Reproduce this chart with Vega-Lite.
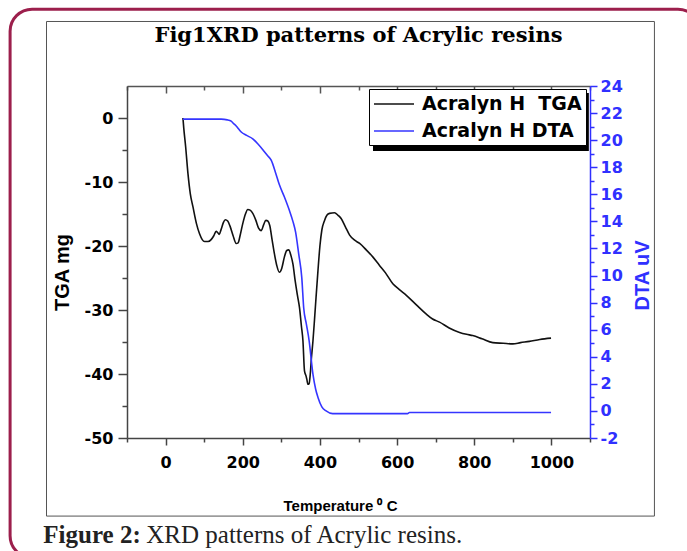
{
  "$schema": "https://vega.github.io/schema/vega-lite/v6.json",
  "width": 463,
  "height": 352,
  "autosize": {"type": "none"},
  "padding": {"left": 127, "top": 86, "right": 97, "bottom": 113},
  "background": "white",
  "config": {"view": {"stroke": null}, "axis": {"grid": false, "labelOverlap": false}},
  "title": {
    "text": "Fig1XRD patterns of Acrylic resins",
    "font": "DejaVu Serif",
    "fontSize": 21,
    "fontWeight": "bold",
    "color": "black",
    "anchor": "middle",
    "frame": "group",
    "baseline": "alphabetic",
    "offset": -55
  },
  "datasets": {
    "tga": [
      {"T": 45, "v": 0, "series": "Acralyn H\u00a0 TGA"},
      {"T": 47, "v": -1.5, "series": "Acralyn H\u00a0 TGA"},
      {"T": 52, "v": -4.5, "series": "Acralyn H\u00a0 TGA"},
      {"T": 58, "v": -8.7, "series": "Acralyn H\u00a0 TGA"},
      {"T": 64, "v": -11.8, "series": "Acralyn H\u00a0 TGA"},
      {"T": 71, "v": -13.9, "series": "Acralyn H\u00a0 TGA"},
      {"T": 80, "v": -16.5, "series": "Acralyn H\u00a0 TGA"},
      {"T": 88, "v": -18.1, "series": "Acralyn H\u00a0 TGA"},
      {"T": 95, "v": -19.0, "series": "Acralyn H\u00a0 TGA"},
      {"T": 101, "v": -19.3, "series": "Acralyn H\u00a0 TGA"},
      {"T": 110, "v": -19.3, "series": "Acralyn H\u00a0 TGA"},
      {"T": 118, "v": -19.0, "series": "Acralyn H\u00a0 TGA"},
      {"T": 125, "v": -18.4, "series": "Acralyn H\u00a0 TGA"},
      {"T": 131, "v": -17.7, "series": "Acralyn H\u00a0 TGA"},
      {"T": 135, "v": -17.9, "series": "Acralyn H\u00a0 TGA"},
      {"T": 139, "v": -18.2, "series": "Acralyn H\u00a0 TGA"},
      {"T": 144, "v": -17.4, "series": "Acralyn H\u00a0 TGA"},
      {"T": 150, "v": -16.3, "series": "Acralyn H\u00a0 TGA"},
      {"T": 155, "v": -15.9, "series": "Acralyn H\u00a0 TGA"},
      {"T": 161, "v": -16.1, "series": "Acralyn H\u00a0 TGA"},
      {"T": 167, "v": -16.9, "series": "Acralyn H\u00a0 TGA"},
      {"T": 175, "v": -18.4, "series": "Acralyn H\u00a0 TGA"},
      {"T": 183, "v": -19.6, "series": "Acralyn H\u00a0 TGA"},
      {"T": 188, "v": -19.5, "series": "Acralyn H\u00a0 TGA"},
      {"T": 193, "v": -18.4, "series": "Acralyn H\u00a0 TGA"},
      {"T": 200, "v": -16.5, "series": "Acralyn H\u00a0 TGA"},
      {"T": 207, "v": -15.0, "series": "Acralyn H\u00a0 TGA"},
      {"T": 213, "v": -14.3, "series": "Acralyn H\u00a0 TGA"},
      {"T": 219, "v": -14.4, "series": "Acralyn H\u00a0 TGA"},
      {"T": 226, "v": -14.9, "series": "Acralyn H\u00a0 TGA"},
      {"T": 234, "v": -16.0, "series": "Acralyn H\u00a0 TGA"},
      {"T": 241, "v": -17.2, "series": "Acralyn H\u00a0 TGA"},
      {"T": 248, "v": -17.6, "series": "Acralyn H\u00a0 TGA"},
      {"T": 254, "v": -16.7, "series": "Acralyn H\u00a0 TGA"},
      {"T": 260, "v": -16.0, "series": "Acralyn H\u00a0 TGA"},
      {"T": 265, "v": -16.1, "series": "Acralyn H\u00a0 TGA"},
      {"T": 270, "v": -16.8, "series": "Acralyn H\u00a0 TGA"},
      {"T": 276, "v": -19.0, "series": "Acralyn H\u00a0 TGA"},
      {"T": 282, "v": -21.2, "series": "Acralyn H\u00a0 TGA"},
      {"T": 288, "v": -23.0, "series": "Acralyn H\u00a0 TGA"},
      {"T": 295, "v": -24.1, "series": "Acralyn H\u00a0 TGA"},
      {"T": 301, "v": -23.5, "series": "Acralyn H\u00a0 TGA"},
      {"T": 308, "v": -21.7, "series": "Acralyn H\u00a0 TGA"},
      {"T": 314, "v": -20.7, "series": "Acralyn H\u00a0 TGA"},
      {"T": 319, "v": -20.6, "series": "Acralyn H\u00a0 TGA"},
      {"T": 325, "v": -21.5, "series": "Acralyn H\u00a0 TGA"},
      {"T": 330, "v": -22.8, "series": "Acralyn H\u00a0 TGA"},
      {"T": 336, "v": -25.5, "series": "Acralyn H\u00a0 TGA"},
      {"T": 342, "v": -27.8, "series": "Acralyn H\u00a0 TGA"},
      {"T": 347, "v": -29.6, "series": "Acralyn H\u00a0 TGA"},
      {"T": 352, "v": -32.5, "series": "Acralyn H\u00a0 TGA"},
      {"T": 356, "v": -34.8, "series": "Acralyn H\u00a0 TGA"},
      {"T": 360, "v": -39.5, "series": "Acralyn H\u00a0 TGA"},
      {"T": 364, "v": -40.3, "series": "Acralyn H\u00a0 TGA"},
      {"T": 366, "v": -40.8, "series": "Acralyn H\u00a0 TGA"},
      {"T": 369, "v": -41.6, "series": "Acralyn H\u00a0 TGA"},
      {"T": 372, "v": -41.5, "series": "Acralyn H\u00a0 TGA"},
      {"T": 375, "v": -40.0, "series": "Acralyn H\u00a0 TGA"},
      {"T": 378, "v": -37.5, "series": "Acralyn H\u00a0 TGA"},
      {"T": 382, "v": -34.8, "series": "Acralyn H\u00a0 TGA"},
      {"T": 386, "v": -31.5, "series": "Acralyn H\u00a0 TGA"},
      {"T": 390, "v": -28.0, "series": "Acralyn H\u00a0 TGA"},
      {"T": 395, "v": -23.8, "series": "Acralyn H\u00a0 TGA"},
      {"T": 400, "v": -20.0, "series": "Acralyn H\u00a0 TGA"},
      {"T": 405, "v": -17.5, "series": "Acralyn H\u00a0 TGA"},
      {"T": 412, "v": -16.0, "series": "Acralyn H\u00a0 TGA"},
      {"T": 418, "v": -15.2, "series": "Acralyn H\u00a0 TGA"},
      {"T": 425, "v": -14.9, "series": "Acralyn H\u00a0 TGA"},
      {"T": 438, "v": -14.8, "series": "Acralyn H\u00a0 TGA"},
      {"T": 447, "v": -15.2, "series": "Acralyn H\u00a0 TGA"},
      {"T": 455, "v": -15.7, "series": "Acralyn H\u00a0 TGA"},
      {"T": 466, "v": -17.0, "series": "Acralyn H\u00a0 TGA"},
      {"T": 477, "v": -18.3, "series": "Acralyn H\u00a0 TGA"},
      {"T": 490, "v": -19.1, "series": "Acralyn H\u00a0 TGA"},
      {"T": 503, "v": -19.6, "series": "Acralyn H\u00a0 TGA"},
      {"T": 520, "v": -20.6, "series": "Acralyn H\u00a0 TGA"},
      {"T": 537, "v": -21.7, "series": "Acralyn H\u00a0 TGA"},
      {"T": 554, "v": -23.0, "series": "Acralyn H\u00a0 TGA"},
      {"T": 570, "v": -24.2, "series": "Acralyn H\u00a0 TGA"},
      {"T": 589, "v": -25.9, "series": "Acralyn H\u00a0 TGA"},
      {"T": 606, "v": -26.8, "series": "Acralyn H\u00a0 TGA"},
      {"T": 624, "v": -27.7, "series": "Acralyn H\u00a0 TGA"},
      {"T": 650, "v": -29.2, "series": "Acralyn H\u00a0 TGA"},
      {"T": 675, "v": -30.6, "series": "Acralyn H\u00a0 TGA"},
      {"T": 692, "v": -31.4, "series": "Acralyn H\u00a0 TGA"},
      {"T": 710, "v": -31.9, "series": "Acralyn H\u00a0 TGA"},
      {"T": 735, "v": -32.8, "series": "Acralyn H\u00a0 TGA"},
      {"T": 762, "v": -33.5, "series": "Acralyn H\u00a0 TGA"},
      {"T": 780, "v": -33.8, "series": "Acralyn H\u00a0 TGA"},
      {"T": 796, "v": -34.0, "series": "Acralyn H\u00a0 TGA"},
      {"T": 820, "v": -34.5, "series": "Acralyn H\u00a0 TGA"},
      {"T": 848, "v": -35.1, "series": "Acralyn H\u00a0 TGA"},
      {"T": 875, "v": -35.2, "series": "Acralyn H\u00a0 TGA"},
      {"T": 900, "v": -35.3, "series": "Acralyn H\u00a0 TGA"},
      {"T": 920, "v": -35.1, "series": "Acralyn H\u00a0 TGA"},
      {"T": 943, "v": -34.9, "series": "Acralyn H\u00a0 TGA"},
      {"T": 970, "v": -34.6, "series": "Acralyn H\u00a0 TGA"},
      {"T": 999, "v": -34.4, "series": "Acralyn H\u00a0 TGA"}
    ],
    "dta": [
      {"T": 45, "v": 21.55, "series": "Acralyn H DTA"},
      {"T": 100, "v": 21.55, "series": "Acralyn H DTA"},
      {"T": 144, "v": 21.55, "series": "Acralyn H DTA"},
      {"T": 160, "v": 21.5, "series": "Acralyn H DTA"},
      {"T": 170, "v": 21.4, "series": "Acralyn H DTA"},
      {"T": 177, "v": 21.2, "series": "Acralyn H DTA"},
      {"T": 183, "v": 21.05, "series": "Acralyn H DTA"},
      {"T": 190, "v": 20.8, "series": "Acralyn H DTA"},
      {"T": 196, "v": 20.6, "series": "Acralyn H DTA"},
      {"T": 210, "v": 20.35, "series": "Acralyn H DTA"},
      {"T": 226, "v": 20.1, "series": "Acralyn H DTA"},
      {"T": 240, "v": 19.7, "series": "Acralyn H DTA"},
      {"T": 252, "v": 19.3, "series": "Acralyn H DTA"},
      {"T": 263, "v": 18.9, "series": "Acralyn H DTA"},
      {"T": 274, "v": 18.5, "series": "Acralyn H DTA"},
      {"T": 285, "v": 17.6, "series": "Acralyn H DTA"},
      {"T": 295, "v": 16.7, "series": "Acralyn H DTA"},
      {"T": 308, "v": 15.8, "series": "Acralyn H DTA"},
      {"T": 321, "v": 14.8, "series": "Acralyn H DTA"},
      {"T": 330, "v": 14.0, "series": "Acralyn H DTA"},
      {"T": 337, "v": 13.2, "series": "Acralyn H DTA"},
      {"T": 345, "v": 11.6, "series": "Acralyn H DTA"},
      {"T": 353, "v": 9.85, "series": "Acralyn H DTA"},
      {"T": 358, "v": 7.6, "series": "Acralyn H DTA"},
      {"T": 365, "v": 6.4, "series": "Acralyn H DTA"},
      {"T": 372, "v": 5.2, "series": "Acralyn H DTA"},
      {"T": 382, "v": 2.7, "series": "Acralyn H DTA"},
      {"T": 389, "v": 1.6, "series": "Acralyn H DTA"},
      {"T": 395, "v": 1.0, "series": "Acralyn H DTA"},
      {"T": 405, "v": 0.3, "series": "Acralyn H DTA"},
      {"T": 416, "v": 0.0, "series": "Acralyn H DTA"},
      {"T": 433, "v": -0.2, "series": "Acralyn H DTA"},
      {"T": 500, "v": -0.2, "series": "Acralyn H DTA"},
      {"T": 627, "v": -0.2, "series": "Acralyn H DTA"},
      {"T": 632, "v": -0.12, "series": "Acralyn H DTA"},
      {"T": 800, "v": -0.12, "series": "Acralyn H DTA"},
      {"T": 999, "v": -0.12, "series": "Acralyn H DTA"}
    ]
  },
  "layer": [
    {
      "data": {"values": [{}]},
      "mark": {"type": "rect", "fill": "transparent", "stroke": "#9c1f4c", "strokeWidth": 3, "cornerRadius": 22},
      "encoding": {
        "x": {"datum": -403, "type": "quantitative", "scale": {"domain": [-100, 1100], "nice": false, "zero": false}, "axis": null},
        "x2": {"datum": 1385},
        "y": {"datum": 17, "type": "quantitative", "scale": {"domain": [-50, 5], "nice": false, "zero": false}, "axis": null},
        "y2": {"datum": -68.7}
      }
    },
    {
      "data": {"values": [{}]},
      "mark": {"type": "rect", "fill": "transparent", "stroke": "#555555", "strokeWidth": 1},
      "encoding": {
        "x": {"datum": -308.6, "type": "quantitative", "scale": {"domain": [-100, 1100], "nice": false, "zero": false}, "axis": null},
        "x2": {"datum": 1267},
        "y": {"datum": 15.08, "type": "quantitative", "scale": {"domain": [-50, 5], "nice": false, "zero": false}, "axis": null},
        "y2": {"datum": -62.2}
      }
    },
    {
      "data": {"values": [{}]},
      "mark": {"type": "rect", "fill": "black", "stroke": null},
      "encoding": {
        "x": {"datum": 537.6, "type": "quantitative", "scale": {"domain": [-100, 1100], "nice": false, "zero": false}, "axis": null},
        "x2": {"datum": 1097},
        "y": {"datum": 3.9, "type": "quantitative", "scale": {"domain": [-50, 5], "nice": false, "zero": false}, "axis": null},
        "y2": {"datum": -5.16}
      }
    },
    {
      "data": {"values": [{}]},
      "mark": {"type": "text", "text": "Figure 2:", "font": "Liberation Serif", "fontSize": 25, "fontWeight": "bold", "color": "#222222", "align": "left", "baseline": "alphabetic"},
      "encoding": {
        "x": {"datum": -317, "type": "quantitative", "scale": {"domain": [-100, 1100], "nice": false, "zero": false}, "axis": null},
        "y": {"datum": -66.45, "type": "quantitative", "scale": {"domain": [-50, 5], "nice": false, "zero": false}, "axis": null}
      }
    },
    {
      "data": {"values": [{}]},
      "mark": {"type": "text", "text": "XRD patterns of Acrylic resins.", "font": "Liberation Serif", "fontSize": 25, "color": "#222222", "align": "left", "baseline": "alphabetic"},
      "encoding": {
        "x": {"datum": -50, "type": "quantitative", "scale": {"domain": [-100, 1100], "nice": false, "zero": false}, "axis": null},
        "y": {"datum": -66.45, "type": "quantitative", "scale": {"domain": [-50, 5], "nice": false, "zero": false}, "axis": null}
      }
    },
    {
      "data": {"name": "tga"},
      "mark": {"type": "line", "strokeWidth": 1.6, "interpolate": "monotone"},
      "encoding": {
        "x": {
          "field": "T", "type": "quantitative",
          "scale": {"domain": [-100, 1100], "nice": false, "zero": false},
          "axis": {
            "orient": "bottom",
            "values": [-100, 0, 100, 200, 300, 400, 500, 600, 700, 800, 900, 1000, 1100],
            "labelExpr": "datum.value % 200 === 0 ? '' + datum.value : ''",
            "labels": true,
            "labelOverlap": false,
            "labelFlush": false,
            "tickSize": {"condition": {"test": "datum.value % 200 === 0", "value": 7}, "value": 4},
            "domainColor": "#444444", "domainWidth": 1.5, "tickColor": "#444444", "tickWidth": 1.5,
            "labelFont": "DejaVu Sans", "labelFontWeight": "bold", "labelFontSize": 16, "labelColor": "black",
            "labelPadding": 9,
            "title": "Temperature \u2070 C",
            "titleFont": "Liberation Sans", "titleFontWeight": "bold", "titleFontSize": 15, "titleColor": "black",
            "titleBaseline": "alphabetic", "titleY": 72, "titleX": 213
          }
        },
        "y": {
          "field": "v", "type": "quantitative",
          "scale": {"domain": [-50, 5], "nice": false, "zero": false},
          "axis": {
            "orient": "left",
            "values": [-50, -45, -40, -35, -30, -25, -20, -15, -10, -5, 0],
            "labelExpr": "datum.value % 10 === 0 ? '' + datum.value : ''",
            "labelOverlap": false,
            "tickSize": {"condition": {"test": "datum.value % 10 === 0", "value": 9}, "value": 5},
            "domainColor": "#444444", "domainWidth": 1.5, "tickColor": "#444444", "tickWidth": 1.5,
            "labelFont": "DejaVu Sans", "labelFontWeight": "bold", "labelFontSize": 16, "labelColor": "black",
            "labelPadding": 5,
            "title": "TGA mg",
            "titleFont": "Liberation Sans", "titleFontWeight": "bold", "titleFontSize": 20, "titleColor": "black",
            "titleBaseline": "middle", "titleX": -65, "titleY": 186, "titleAngle": -90
          }
        },
        "color": {
          "field": "series", "type": "nominal",
          "scale": {"domain": ["Acralyn H\u00a0 TGA", "Acralyn H DTA"], "range": ["#111111", "#3535ff"]},
          "legend": {
            "orient": "none", "legendX": 242, "legendY": 3, "title": null,
            "symbolType": "M-1,0L3,0", "symbolSize": 400, "symbolStrokeWidth": 1.5,
            "labelFont": "DejaVu Sans", "labelFontWeight": "bold", "labelFontSize": 19, "labelColor": "black",
            "labelOffset": 27, "labelLimit": 400, "padding": 4, "rowPadding": 6,
            "strokeColor": "black", "fillColor": "white"
          }
        }
      }
    },
    {
      "data": {"name": "dta"},
      "mark": {"type": "line", "strokeWidth": 1.6, "interpolate": "monotone"},
      "encoding": {
        "x": {
          "field": "T", "type": "quantitative",
          "scale": {"domain": [-100, 1100], "nice": false, "zero": false},
          "axis": {
            "orient": "top",
            "values": [-100, 0, 100, 200, 300, 400, 500, 600, 700, 800, 900, 1000, 1100],
            "labelExpr": "''",
            "tickSize": {"condition": {"test": "datum.value % 200 === 0", "value": -7}, "value": -4},
            "domainColor": "#555555", "domainWidth": 1.5, "tickColor": "#555555", "tickWidth": 1.5,
            "title": null
          }
        },
        "y": {
          "field": "v", "type": "quantitative",
          "scale": {"domain": [-2, 24], "nice": false, "zero": false},
          "axis": {
            "orient": "right",
            "values": [-2, -1, 0, 1, 2, 3, 4, 5, 6, 7, 8, 9, 10, 11, 12, 13, 14, 15, 16, 17, 18, 19, 20, 21, 22, 23, 24],
            "labelExpr": "datum.value % 2 === 0 ? '' + datum.value : ''",
            "labelOverlap": false,
            "tickSize": {"condition": {"test": "datum.value % 2 === 0", "value": 7}, "value": 4},
            "domainColor": "#3030ff", "domainWidth": 1.5, "tickColor": "#3030ff", "tickWidth": 1.5,
            "labelFont": "DejaVu Sans", "labelFontWeight": "bold", "labelFontSize": 16, "labelColor": "#3030ff",
            "labelPadding": 3,
            "title": "DTA uV",
            "titleFont": "Liberation Sans", "titleFontWeight": "bold", "titleFontSize": 20, "titleColor": "#3030ff",
            "titleBaseline": "middle", "titleX": 52, "titleY": 189, "titleAngle": -90
          }
        },
        "color": {
          "field": "series", "type": "nominal",
          "scale": {"domain": ["Acralyn H\u00a0 TGA", "Acralyn H DTA"], "range": ["#111111", "#3535ff"]}
        }
      }
    }
  ],
  "resolve": {"scale": {"y": "independent"}, "axis": {"x": "independent"}}
}
